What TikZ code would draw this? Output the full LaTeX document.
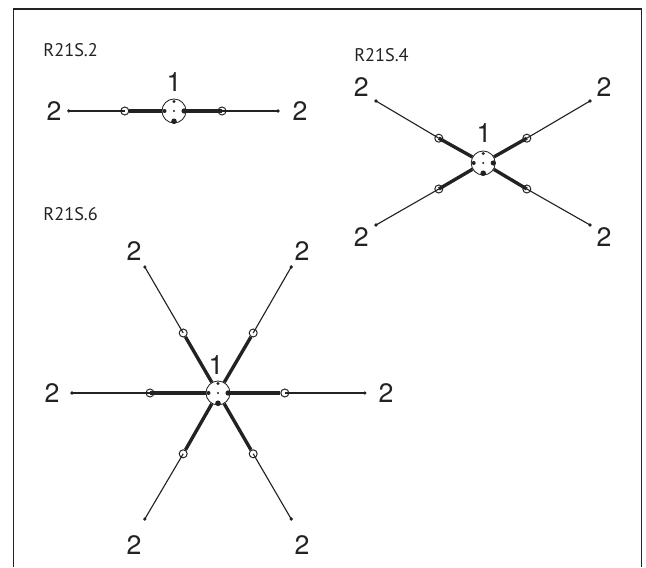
\documentclass[tikz,border=0pt]{standalone}
\usepackage{fontspec}
\setmainfont{TeX Gyre Heros}
\setsansfont{TeX Gyre Heros}
\newfontfamily\typefont{PT Sans}
\usetikzlibrary{positioning}
\definecolor{inkgrey}{HTML}{222222}
\tikzset{
  hub/.style={circle,draw=inkgrey,line width=0.6pt,minimum size=0.6cm,inner sep=0pt},
  lug/.style={circle,draw=inkgrey,line width=0.7pt,minimum size=0.2cm,inner sep=0pt},
  tip/.style={circle,fill=inkgrey,minimum size=0.09cm,inner sep=0pt},
  pindot/.style={circle,fill=inkgrey,minimum size=#1,inner sep=0pt},
  cable/.style={line width=0.8pt,inkgrey},
  sheath/.style={line width=2.4pt,inkgrey},
  num/.style={font=\fontsize{19}{19}\selectfont,text=inkgrey,inner sep=0pt},
  typelabel/.style={font=\typefont\fontsize{13}{13}\selectfont,text=inkgrey,inner sep=0pt,anchor=west}
}
% five contacts inside a hub
\newcommand{\hubpins}[1]{
\node [pindot=0.08cm, above=0.19cm of #1.center] (#1n) {};
\node [pindot=0.14cm, below=0.18cm of #1.center] (#1s) {};
\node [pindot=0.1cm, left=0.18cm of #1.center] (#1w) {};
\node [pindot=0.13cm, right=0.18cm of #1.center] (#1e) {};
\node [pindot=0.06cm] (#1c) at (#1.center) {};
}
\begin{document}
\begin{tikzpicture}
\useasboundingbox (0,0) rectangle (16.15,14.175);
\coordinate (frameSW) at (0.34,0);
\coordinate (frameNW) at (0.34,13.95);
\coordinate (frameNE) at (16.03,13.95);
\coordinate (frameSE) at (16.03,0);
\draw [line width=1pt,inkgrey] (frameSW) -- (frameNW) -- (frameNE) -- (frameSE);
% R21S.2
\node [typelabel] (typeA) at (1.08,12.93) {R21S.2};
\node [hub] (hubA) at (4.35,11.4) {};
\hubpins{hubA}
\node [num] (oneA) at (4.35,12.13) {1};
\node [lug] (lugAw) at (3.12,11.4) {};
\node [lug] (lugAe) at (5.55,11.4) {};
\node [tip] (tipAw) at (1.72,11.4) {};
\node [tip] (tipAe) at (6.95,11.4) {};
\node [num] (twoAw) at (1.35,11.4) {2};
\node [num] (twoAe) at (7.5,11.4) {2};
\draw [sheath] (hubA) -- (lugAw);
\draw [sheath] (hubA) -- (lugAe.center);
\draw [cable] (lugAw.center) -- (tipAw.center);
\draw [cable] (lugAe.center) -- (tipAe.center);
% R21S.4
\node [typelabel] (typeB) at (8.85,12.8) {R21S.4};
\node [hub] (hubB) at (12.08,10.1) {};
\hubpins{hubB}
\node [num] (oneB) at (12.1,10.85) {1};
\node [lug] (lugBnw) at (10.97,10.72) {};
\node [lug] (lugBne) at (13.17,10.72) {};
\node [lug] (lugBsw) at (10.97,9.45) {};
\node [lug] (lugBse) at (13.17,9.45) {};
\node [tip] (tipBnw) at (9.4,11.65) {};
\node [tip] (tipBne) at (14.75,11.65) {};
\node [tip] (tipBsw) at (9.4,8.55) {};
\node [tip] (tipBse) at (14.75,8.55) {};
\node [num] (twoBnw) at (9.03,12.0) {2};
\node [num] (twoBne) at (15.1,12.0) {2};
\node [num] (twoBsw) at (9.03,8.25) {2};
\node [num] (twoBse) at (15.1,8.25) {2};
\draw [sheath] (hubB) -- (lugBnw.center);
\draw [sheath] (hubB) -- (lugBne.center);
\draw [sheath] (hubB) -- (lugBsw.center);
\draw [sheath] (hubB) -- (lugBse.center);
\draw [cable] (lugBnw.center) -- (tipBnw.center);
\draw [cable] (lugBne.center) -- (tipBne.center);
\draw [cable] (lugBsw.center) -- (tipBsw.center);
\draw [cable] (lugBse.center) -- (tipBse.center);
% R21S.6
\node [typelabel] (typeC) at (1.08,8.83) {R21S.6};
\node [hub] (hubC) at (5.45,4.35) {};
\hubpins{hubC}
\node [num] (oneC) at (5.4,5.05) {1};
\node [lug] (lugCw) at (3.75,4.35) {};
\node [lug] (lugCe) at (7.12,4.35) {};
\node [lug] (lugCnw) at (4.58,5.85) {};
\node [lug] (lugCne) at (6.33,5.85) {};
\node [lug] (lugCsw) at (4.58,2.83) {};
\node [lug] (lugCse) at (6.33,2.83) {};
\node [tip] (tipCw) at (1.8,4.35) {};
\node [tip] (tipCe) at (9.12,4.35) {};
\node [tip] (tipCnw) at (3.62,7.5) {};
\node [tip] (tipCne) at (7.28,7.5) {};
\node [tip] (tipCsw) at (3.62,1.2) {};
\node [tip] (tipCse) at (7.28,1.2) {};
\node [num] (twoCw) at (1.3,4.35) {2};
\node [num] (twoCe) at (9.65,4.35) {2};
\node [num] (twoCnw) at (3.35,7.9) {2};
\node [num] (twoCne) at (7.55,7.9) {2};
\node [num] (twoCsw) at (3.35,0.55) {2};
\node [num] (twoCse) at (7.55,0.55) {2};
\draw [sheath] (hubC) -- (lugCw.center);
\draw [sheath] (hubC) -- (lugCe);
\draw [sheath] (hubC) -- (lugCnw);
\draw [sheath] (hubC) -- (lugCne);
\draw [sheath] (hubC) -- (lugCsw);
\draw [sheath] (hubC) -- (lugCse);
\draw [cable] (lugCw.center) -- (tipCw.center);
\draw [cable] (lugCe.center) -- (tipCe.center);
\draw [cable] (lugCnw.center) -- (tipCnw.center);
\draw [cable] (lugCne.center) -- (tipCne.center);
\draw [cable] (lugCsw.center) -- (tipCsw.center);
\draw [cable] (lugCse.center) -- (tipCse.center);
\end{tikzpicture}
\end{document}
